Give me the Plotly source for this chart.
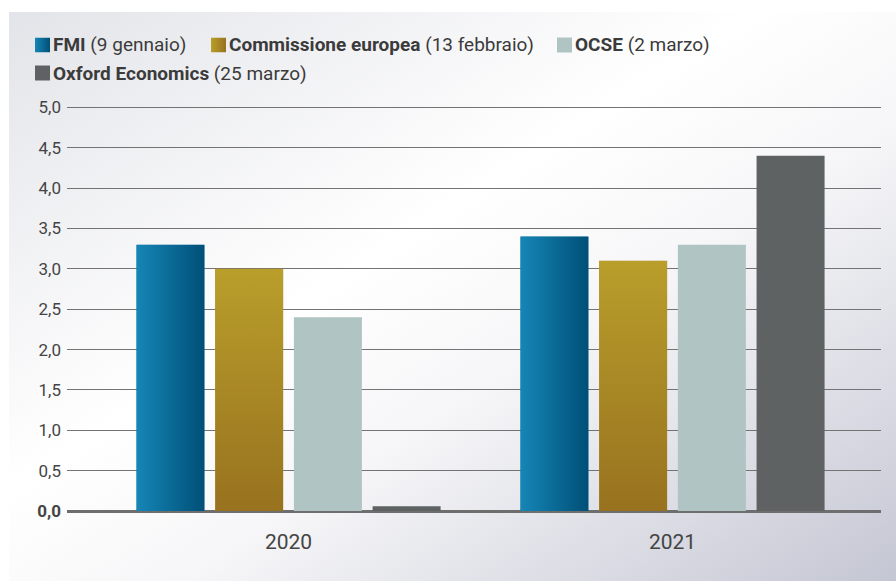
import base64
import plotly.graph_objects as go

# Growth forecasts (%) by institution
years = ["2020", "2021"]
series_names = ["FMI", "Commissione europea", "OCSE", "Oxford Economics"]
series_dates = ["(9 gennaio)", "(13 febbraio)", "(2 marzo)", "(25 marzo)"]
fmi = [3.3, 3.4]
commissione = [3.0, 3.1]
ocse = [2.4, 3.3]
oxford = [0.06, 4.4]
values = [fmi, commissione, ocse, oxford]

y_tickvals = [0, 0.5, 1, 1.5, 2, 2.5, 3, 3.5, 4, 4.5, 5]
y_ticktext = ["<b>0,0</b>", "0,5", "1,0", "1,5", "2,0", "2,5", "3,0", "3,5", "4,0", "4,5", "5,0"]

W, H = 896, 581
ML, MR, MT, MB = 67, 15, 105, 70
PW, PH = W - ML - MR, H - MT - MB
Y_MAX = 5.03  # leaves room for the top gridline

solid = ["#036a96", "#a98a27", "#b0c4c3", "#5f6263"]
# (direction, start colour, end colour) for gradient fills; None = solid
grads = [("h", "#1586b6", "#004f77"), ("v", "#b99e2b", "#98721f"), None, None]


def svg_uri(direction, c0, c1):
    x2, y2 = ("100%", "0%") if direction == "h" else ("0%", "100%")
    if direction == "d":
        svg = (
            '<svg xmlns="http://www.w3.org/2000/svg" width="100" height="100" '
            'viewBox="0 0 100 100" preserveAspectRatio="none">'
            '<defs><linearGradient id="g" x1="0%" y1="0%" x2="100%" y2="100%">'
            '<stop offset="0" stop-color="#e3e4e9"/>'
            '<stop offset="0.42" stop-color="#ffffff"/>'
            '<stop offset="0.6" stop-color="#f6f6f8"/>'
            '<stop offset="1" stop-color="#c4c6d3"/>'
            '</linearGradient></defs>'
            '<rect width="100" height="100" fill="url(#g)"/></svg>'
        )
    else:
        svg = (
            '<svg xmlns="http://www.w3.org/2000/svg" width="100" height="100" '
            'viewBox="0 0 100 100" preserveAspectRatio="none">'
            f'<defs><linearGradient id="g" x1="0%" y1="0%" x2="{x2}" y2="{y2}">'
            f'<stop offset="0" stop-color="{c0}"/>'
            f'<stop offset="1" stop-color="{c1}"/>'
            '</linearGradient></defs>'
            '<rect width="100" height="100" fill="url(#g)"/></svg>'
        )
    return "data:image/svg+xml;base64," + base64.b64encode(svg.encode()).decode()


# Bar geometry on a numeric x axis (one unit per year)
bargap = 0.18
bargroupgap = 0.136
n = len(values)
slot = (1 - bargap) / n
bar_w = slot * (1 - bargroupgap)
xpos = list(range(len(years)))

fig = go.Figure()
images = []
for i, (vals, color) in enumerate(zip(values, solid)):
    offset = -(1 - bargap) / 2 + i * slot + (slot - bar_w) / 2
    fig.add_trace(go.Bar(
        x=xpos, y=vals, name=series_names[i],
        width=bar_w, offset=offset,
        marker=dict(color=color, line=dict(width=0)),
        showlegend=False,
        hovertemplate=series_names[i] + " %{y:.1f}<extra></extra>",
    ))
    if grads[i]:
        uri = svg_uri(*grads[i])
        for xv, v in zip(xpos, vals):
            images.append(dict(
                source=uri, xref="x", yref="y",
                x=xv + offset, y=v, sizex=bar_w, sizey=v,
                xanchor="left", yanchor="top", sizing="stretch", layer="above",
            ))


def px(xp):
    return (xp - ML) / PW


def py(yp):
    return (H - MB - yp) / PH


# Background panel
images.append(dict(
    source=svg_uri("d", None, None), xref="paper", yref="paper",
    x=px(9), y=py(12), sizex=(W - 9) / PW, sizey=(H - 12) / PH,
    xanchor="left", yanchor="top", sizing="stretch", layer="below",
))

# Custom legend: swatch + label
legend_pos = [(35, 45), (211, 45), (557, 45), (35, 73)]
shapes = []
annotations = []
for i, (lx, ly) in enumerate(legend_pos):
    if grads[i]:
        images.append(dict(
            source=svg_uri("h", grads[i][1], grads[i][2]), xref="paper", yref="paper",
            x=px(lx), y=py(ly - 7.5), sizex=15 / PW, sizey=15 / PH,
            xanchor="left", yanchor="top", sizing="stretch", layer="above",
        ))
    else:
        shapes.append(dict(
            type="rect", xref="paper", yref="paper",
            x0=px(lx), x1=px(lx + 15), y0=py(ly + 7.5), y1=py(ly - 7.5),
            fillcolor=solid[i], line=dict(width=0),
        ))
    annotations.append(dict(
        xref="paper", yref="paper", x=px(lx + 16), y=py(ly),
        xanchor="left", yanchor="middle", showarrow=False,
        text=f"<b>{series_names[i]}</b> {series_dates[i]}",
        font=dict(family="Roboto", size=19, color="#3b3b3b"),
    ))

fig.update_layout(
    width=W, height=H,
    margin=dict(l=ML, r=MR, t=MT, b=MB),
    paper_bgcolor="#ffffff",
    plot_bgcolor="rgba(0,0,0,0)",
    font=dict(family="Roboto", color="#444444"),
    images=images,
    shapes=shapes,
    annotations=annotations,
    xaxis=dict(
        range=[-0.577, 1.543], tickvals=xpos, ticktext=years,
        showgrid=False, zeroline=False, showline=False, ticks="",
        ticklabelstandoff=16,
        tickfont=dict(family="Roboto", size=21, color="#444444"),
        fixedrange=True,
    ),
    yaxis=dict(
        range=[0, Y_MAX], tickvals=y_tickvals, ticktext=y_ticktext,
        showgrid=True, gridcolor="#737373", gridwidth=1.2,
        zeroline=True, zerolinecolor="#6e6e6e", zerolinewidth=2.5,
        showline=False, ticks="", ticklabelstandoff=5,
        tickfont=dict(family="Roboto", size=17, color="#444444"),
        fixedrange=True,
    ),
)

fig.write_html("out.html")
